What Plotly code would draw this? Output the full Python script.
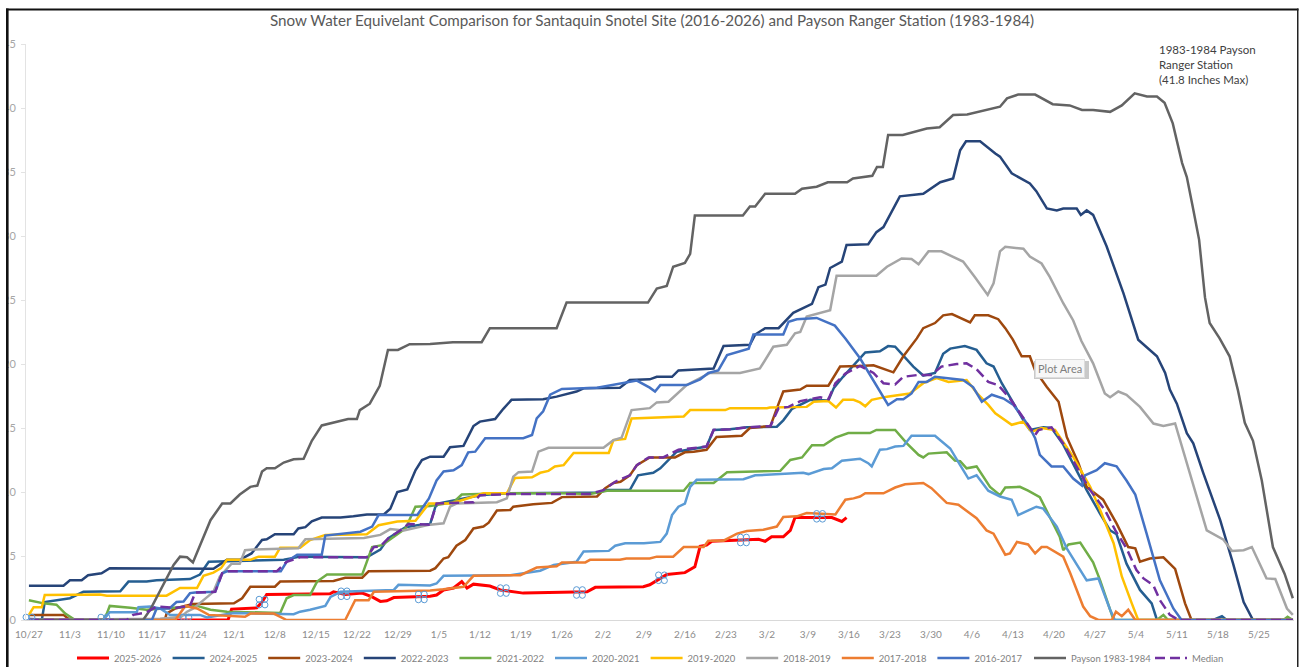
import plotly.graph_objects as go

TITLE = "Snow Water Equivelant Comparison for Santaquin Snotel Site (2016-2026) and Payson Ranger Station (1983-1984)"
tick_days = [0,7,14,21,28,35,42,49,56,63,70,77,84,91,98,105,112,119,126,133,140,147,154,161,168,175,182,189,196,203,210]
tick_labels = ["10/27","11/3","11/10","11/17","11/24","12/1","12/8","12/15","12/22","12/29","1/5","1/12","1/19","1/26","2/2","2/9","2/16","2/23","3/2","3/9","3/16","3/23","3/30","4/6","4/13","4/20","4/27","5/4","5/11","5/18","5/25"]
y_ticks = [0,5,10,15,20,25,30,35,40,45]

# (day since 10/27, inches SWE)
swe_2025_26 = [(0,0),(34,0),(34.6,.85),(36.3,.9),(37.2,.95),(38.9,.95),(39.8,1.4),(40.6,2),(51.4,2.05),(52,2.2),(54,2),(56.9,2.1),(58.6,1.8),(60,1.45),(61.1,1.5),(62.3,1.75),(68.5,1.85),(69.6,1.95),(70.8,2.35),(72.5,2.5),(73.9,3),(74.8,2.5),(75.9,2.8),(78.7,2.65),(80.5,2.35),(84.4,2.1),(95.3,2.2),(96.7,2.55),(104.9,2.6),(106,2.75),(107.8,3.25),(108.9,3.55),(112,3.7),(113.7,4.15),(114.6,5.75),(115.7,5.85),(116.6,6.15),(124.6,6.3),(125.7,6.15),(126.8,6.5),(128.8,6.5),(130,7),(130.8,8),(137.1,8),(138.8,7.7),(139.6,8)]
swe_2024_25 = [(0,0),(2.2,0),(2.7,1.4),(4.2,1.5),(7,1.7),(9.3,2.2),(15.6,2.25),(17,3),(20.1,3),(21.8,3.1),(27.5,3.2),(29.2,3.55),(30.7,4.55),(43.5,4.7),(46.3,4.95),(57.7,4.9),(60,5.5),(61.4,6.4),(63.4,7),(64.3,7.25),(66.3,7.4),(68.5,7.5),(69.4,8.85),(70,9.1),(77,9.75),(81.6,9.9),(94,9.95),(97,9.95),(98.7,10.15),(102.6,10.15),(104,11.3),(106.6,11.5),(107.8,11.85),(110.6,13.15),(115.7,13.55),(116.9,14.85),(119.7,14.9),(122.6,15.05),(127.7,15.1),(128.8,15.6),(130.3,16.5),(133.4,17.2),(136.5,17.15),(137.4,18.1),(139,19),(141.9,20.4),(142.8,20.9),(145.3,21),(146.7,21.4),(147.9,21.35),(149,20.8),(151,19.8),(152.7,19.1),(154.7,19.3),(156.1,20.8),(157.3,21.2),(159.8,21.4),(161.8,21.1),(163.5,20.05),(164.7,19.8),(166.1,18.5),(168.6,16.5),(169.8,15.6),(170.9,14.85),(173.2,15.05),(174.6,15),(176.6,13.7),(178.3,12.2),(180.6,10.15),(182.9,8.3),(184.6,7),(185.7,6.7),(187.4,4.4),(189.7,2.35),(191.7,1.3),(192.6,0),(202.2,0),(203.7,.3),(204.5,0),(215.8,0)]
swe_2023_24 = [(0,.4),(5.9,.4),(7,0),(23.2,0),(23.5,.5),(25,.9),(28,1.25),(35,1.3),(36.4,1.7),(37.8,2.6),(42,2.6),(42.9,3),(52,3.05),(54,3.3),(56.9,3.3),(58,3.8),(68.5,3.85),(69.4,4.05),(70.8,4.8),(71.6,4.9),(73,5.8),(74.5,6.25),(75.9,7.15),(77.6,7.3),(78.5,7.6),(79.9,8.55),(82.2,8.6),(82.7,8.85),(86.1,9.05),(89.3,9.15),(91,9.6),(97,9.65),(98.4,10.3),(99.8,10.7),(101,10.8),(102.6,11.3),(103.8,12.1),(106,12.7),(110.3,12.7),(112,13.1),(113.5,13.15),(115.7,13.3),(117.4,14.3),(121.7,14.4),(123.1,15),(126.6,15.15),(128,16.9),(128.8,17.85),(131.7,18),(132.8,18.3),(136.5,18.3),(138.5,19.8),(141.9,19.85),(144.2,19.9),(147.6,19.35),(149.3,20.6),(151.6,22),(152.7,22.8),(154.7,23.2),(156.1,23.8),(157.6,23.9),(160.7,23.25),(161.5,23.8),(163.8,23.8),(165.5,23.5),(166.7,22.8),(168,21.9),(169.5,20.6),(170.9,20.6),(171.8,19.5),(173.8,18.2),(175.8,17.05),(177.2,14.3),(179.2,12.25),(180.6,10.4),(183.4,9.4),(185.7,7.55),(187.7,5.7),(188.9,5.6),(189.7,4.55),(191.4,4.8),(193.7,4.9),(195.7,4),(197.4,1.3),(198.5,0),(215.8,0)]
swe_2022_23 = [(0,2.68),(5.9,2.68),(7,3.1),(9,3.1),(10.1,3.5),(12.4,3.65),(13.8,4.05),(31.5,4),(33.8,4.7),(36,4.7),(38,5.2),(39.8,6.25),(40.6,6.3),(42,6.7),(45.2,6.7),(46,7.15),(47.2,7.25),(48.3,7.7),(50,8),(53.2,8),(55.4,8.1),(57.7,8.25),(60.6,8.25),(61.7,8.7),(62.9,10),(64.6,10.2),(66,11.7),(67.1,12.5),(68.5,12.76),(70.8,12.76),(71.9,13.5),(74.2,13.6),(75.9,15.15),(77,15.5),(79.6,15.7),(81,16.5),(82.4,17.2),(87.8,17.25),(90.1,17.45),(93.5,17.85),(94.7,18.1),(100.9,18.15),(102.6,18.75),(106,18.8),(107.2,19),(109.8,19),(110.9,19.5),(116.9,19.65),(118.6,21.4),(123.1,21.5),(124,22.3),(125.7,22.8),(128,22.8),(130.5,24),(133.7,24.7),(134.8,26),(136,26.2),(136.8,27.5),(138.8,28),(139.6,29.3),(143.3,29.35),(144.7,30.3),(145.9,30.7),(148.7,33.1),(152.7,33.3),(155.6,34.2),(157.8,34.5),(159,36.7),(160,37.4),(162.4,37.4),(165,36.45),(165.8,36.2),(167.8,34.9),(170.9,34.1),(172,33.5),(173.8,32.15),(175.5,32),(176.6,32.15),(178.9,32.15),(179.6,31.65),(180.6,32),(181.7,31.65),(184,29.2),(186.9,25.5),(189.4,21.9),(192.6,20.6),(194,19.3),(194.8,18),(196,16.9),(197.7,14.6),(198.8,13.8),(200.5,11.5),(203.4,7.8),(205.6,4.4),(207.4,1.4),(209,0),(215.8,0)]
swe_2021_22 = [(0,1.55),(2.5,1.3),(4.7,1.2),(6.2,.5),(7.9,0),(12.7,0),(13.3,.5),(13.8,1.1),(17.3,.95),(20.1,.8),(28.7,1.1),(31,.8),(33.8,.65),(42.9,.55),(44,1.7),(45.2,1.95),(48,1.95),(49.2,3),(50.9,3.55),(56.9,3.55),(58.6,5.7),(60.3,5.85),(64.3,7.15),(66,8.85),(68.5,8.9),(69.9,9),(72.5,9.2),(73.9,9.8),(81.3,9.9),(91.3,9.9),(95.8,9.85),(98.7,10.1),(111.8,10.1),(112.9,10.7),(116.9,10.7),(119.2,11.55),(128.3,11.65),(130,12.5),(132,12.7),(133.7,13.65),(135.7,13.65),(137.7,14.25),(139.9,14.6),(143.6,14.6),(144.7,14.85),(147.9,14.85),(149.9,13.8),(151.9,12.9),(152.7,12.7),(153.6,13),(156.7,13.1),(158.1,12.45),(159,12.4),(160.1,11.85),(161.8,12),(164.1,10.4),(165.8,9.75),(166.7,10.35),(169.2,10.4),(170.6,10.1),(172.6,9.6),(174.3,8.05),(176,6.5),(176.6,5.45),(177.5,5.9),(179.5,6.05),(181.7,4.5),(182.9,3.1),(184.6,.8),(185.2,0),(192.6,0),(193.7,.4),(194.5,0),(214.2,0),(214.9,.25),(215.8,0)]
swe_2020_21 = [(0,.1),(3.6,0),(12.7,0),(13.8,.6),(18.4,.6),(18.7,1),(20.7,1.05),(22.4,.9),(24.1,.4),(29.2,.4),(30.4,.2),(35,.55),(45.2,.45),(46.3,.65),(48,.8),(50.6,1.1),(51.5,1.8),(53.2,2.2),(62.3,2.35),(63.1,2.75),(68.5,2.7),(69.6,2.85),(70.8,3.45),(77,3.5),(82.2,3.5),(87.3,3.85),(89.6,4.3),(93.5,4.55),(94.7,5.35),(99,5.4),(100.1,5.8),(101.8,6),(105,6),(107.8,6.1),(108.9,6.75),(109.8,8.2),(110.9,8.85),(112,9.1),(112.9,10.4),(114,10.95),(122,11),(124,11.3),(128.8,11.45),(132.2,11.5),(133.1,11.4),(135.7,11.8),(137.1,11.85),(138.8,12.45),(141.9,12.6),(143.3,12.25),(143.9,12),(145.3,13.3),(146.5,13.35),(147.9,13.55),(149.3,13.6),(150.7,14.4),(154.7,14.4),(157.3,13.4),(159,12.1),(160.4,11.05),(161.8,11.3),(163.8,10.1),(165.8,9.65),(167.8,9.4),(168.9,8.2),(170.6,8.55),(172,8.85),(173.2,8.7),(175.5,7.3),(177.2,5.6),(178.9,4.4),(180.6,3.1),(182.6,3.25),(184.6,.8),(185.4,0),(215.8,0)]
swe_2019_20 = [(0,.4),(.8,1),(2.2,1),(2.7,1.95),(12.1,2),(13.3,1.9),(23.5,1.9),(25.8,2.5),(28.7,2.5),(29.8,3.45),(31.5,3.7),(32.8,4.05),(33.8,4.7),(37.8,4.7),(39.2,4.95),(42,4.95),(42.9,5.65),(46.3,5.65),(48,6.25),(50.6,6.65),(57.7,6.7),(59.7,7.4),(62.9,7.7),(66,7.75),(68.3,9.1),(72,9.1),(74.2,9.4),(77.6,9.9),(81.6,9.9),(83,11.1),(85.9,11.15),(87.3,11.5),(88.7,11.65),(89.8,12),(91.3,12.1),(93,13.05),(99,13.05),(99.8,14.05),(101.8,14.15),(102.9,15.75),(111.8,15.9),(112.9,16.4),(118.9,16.4),(119.7,16.55),(126,16.55),(126.5,16.6),(132.8,16.65),(134,17.05),(136.5,17.1),(137.8,16.6),(139,17.2),(140.8,17.2),(141.9,17),(142.8,16.7),(143.9,17.2),(146.5,17.45),(150.4,17.7),(152.7,18.5),(155,18.9),(157,18.6),(160.1,18.75),(162.1,17.6),(163.8,16.8),(165,16.15),(167.8,15.25),(169.8,15.5),(171.2,14.7),(172.9,15),(175.2,14.85),(178.3,12.75),(181.2,10.4),(182.9,8.6),(185.2,6),(186.6,3.4),(188.3,1.3),(189.4,0),(215.8,0)]
swe_2018_19 = [(0,0),(22.4,.1),(26,.25),(27,.65),(28.1,.9),(29.2,1.3),(31.5,2.2),(32.6,3.4),(34.6,4.4),(36,4.4),(36.9,5.45),(38.3,5.5),(46,5.6),(47.2,6.3),(57.2,6.4),(60,6.65),(61.7,7.1),(64,7),(68.5,7.45),(70.8,7.55),(71.9,8.85),(73,9.1),(79.9,9.2),(81.6,9.5),(82.7,11.2),(83.6,11.55),(85.9,11.6),(87,13.15),(88.7,13.45),(98.1,13.45),(99.8,14.05),(101.2,14.25),(102.9,16.4),(106,16.55),(107.2,17),(109.2,17.05),(112.3,18.35),(116.3,19.3),(121.4,19.3),(124.8,19.65),(127.1,21.35),(129.4,21.5),(130.8,22.4),(131.7,22.5),(132.8,23.7),(136.8,24.2),(137.9,26.9),(144.7,26.9),(146.5,27.6),(149,28.25),(150.7,28.2),(151.9,27.8),(153.6,28.8),(155.8,28.8),(158.4,28.25),(159.5,28),(161.5,26.8),(163.7,25.4),(164.7,26.3),(165.8,28.8),(166.7,29.15),(169.8,29),(170.9,28.4),(172.9,27.85),(174.3,26.8),(176.6,24.75),(178.3,23.4),(179.7,21.8),(181.7,20.05),(183.7,17.7),(184.6,17.4),(186,17.85),(187.4,17.6),(189.7,16.65),(192,15.35),(193.7,15.15),(195.7,15.35),(197.4,12.75),(199.4,9.65),(201.1,7),(203.9,6.3),(205.4,5.4),(207.4,5.45),(208.8,5.7),(211.3,3.25),(212.8,3.2),(214.8,.9),(215.8,.4)]
swe_2017_18 = [(0,0),(25,0),(26.7,1.1),(28.7,.9),(30.7,.4),(36.9,.25),(37.8,.5),(41.8,.5),(44,0),(54,0),(55.7,1.55),(58,1.55),(58.9,2.2),(68.5,2.3),(70.8,2.4),(74.2,2.6),(75.9,3.45),(83.9,3.5),(86.7,4.1),(90.1,4.2),(91,4.5),(95,4.5),(95.8,4.7),(100.9,4.7),(102,4.8),(106,4.8),(107.2,4.95),(110,4.95),(111.8,5.7),(115.2,5.7),(116,6.2),(118.6,6.2),(120.9,6.75),(122.6,6.95),(125.4,7.05),(127.7,7.3),(128.8,8.05),(131.1,8.1),(132.8,8.35),(137.7,8.25),(139.4,9.4),(140.8,9.5),(141.9,9.65),(142.8,9.9),(145.9,9.9),(147.9,10.35),(149.6,10.6),(152.7,10.7),(154.1,10.3),(156.7,9.15),(158.7,9),(161.8,7.95),(163.5,7),(164.7,6.75),(166.7,5.1),(167.5,5.2),(168.7,6.1),(170.6,5.9),(171.8,5.2),(172.9,5.7),(173.8,5.7),(176.6,4.95),(177.8,3.65),(180,1.05),(181.2,.3),(182.6,0),(184.9,0),(185.6,.65),(186.6,.3),(187.7,.8),(188.9,0),(215.8,0)]
swe_2016_17 = [(0,0),(21,0),(21.8,.9),(24,.9),(25.2,1.4),(26.4,1.45),(27.5,2.1),(28.4,2.15),(31.8,2.2),(33,3.65),(33.8,3.8),(43,3.8),(44,4.55),(45.8,5.1),(50,5.1),(50.6,6.6),(56.6,6.9),(58.6,7.3),(59.7,8.2),(66.3,8.2),(68.3,9.5),(69.6,10.9),(70.8,11.6),(72.5,11.7),(73.9,12.1),(75,13.1),(76.2,13.15),(77.9,14.2),(84.4,14.2),(85.9,14.45),(86.7,15.75),(87.8,16.3),(89,17.6),(91,18.05),(97,18.15),(101.5,18.5),(103.8,18.7),(106,18.15),(106.9,17.85),(107.8,18.35),(112.3,18.35),(114.6,18.8),(116,19.3),(117.7,19.5),(119.2,20.7),(122.9,21.2),(123.7,22.3),(128.8,22.3),(129.7,23.3),(131.1,23.5),(134.5,23.6),(137.6,23),(139.4,22),(141.9,20.45),(146.7,16.8),(148.2,17.25),(149.3,17.25),(150.7,17.7),(151.9,18.6),(153.3,18.6),(154.7,19),(159.5,18.75),(161.2,18.2),(162.7,17.05),(164.4,17.6),(166.4,17.3),(168.1,16.8),(169.8,15.75),(170.9,15),(171.8,14.2),(172.6,12.9),(174.6,12),(176.6,12),(178.3,11.05),(179.8,10.5),(180.3,11.3),(182.3,11.7),(183.7,12.25),(185.7,12),(187.4,10.9),(188.9,9.8),(190.8,6.8),(193.1,3.1),(195.4,.9),(196.8,0),(215.8,0)]
swe_payson = [(0,0),(19.5,0),(20.7,.8),(22.4,2.3),(24.7,4.3),(25.8,4.95),(27,4.9),(28,4.5),(29.8,6.5),(31,7.8),(33,9.1),(34.4,9.1),(36,9.8),(37.8,10.4),(39,10.5),(39.8,11.6),(40.6,11.85),(42,11.85),(43.5,12.3),(45.2,12.55),(46.9,12.6),(48.3,14),(50,15.2),(52,15.4),(54.5,15.7),(56,15.7),(56.5,16.4),(58.2,16.9),(59.9,18.3),(61.3,21.1),(63,21.1),(65,21.55),(68.5,21.56),(72.4,21.7),(77.3,21.7),(78.7,22.8),(90.1,22.8),(91.8,24.8),(105.7,24.8),(107.2,25.9),(108.9,26.1),(110,27.6),(112,27.9),(112.9,28.6),(113.7,31.6),(121.9,31.6),(123.1,32.3),(124,32.3),(125.7,33.3),(130.8,33.3),(132,33.7),(134.5,33.85),(136.4,34.2),(139.7,34.2),(140.7,34.5),(144,34.7),(144.8,35.4),(145.8,35.4),(146.7,37.9),(149.2,37.9),(151.8,38.2),(153.3,38.4),(155.5,38.5),(157.8,39.45),(160.2,39.5),(163.7,39.85),(165.8,40.1),(167,40.75),(168.9,41.05),(171.8,41.05),(174.8,40.3),(177.7,40.2),(179.8,39.85),(181.7,39.85),(184.6,39.7),(186.6,40.2),(188.8,41.15),(190.9,40.9),(192.6,40.9),(193.9,40.4),(195.3,38.8),(196.9,35.7),(197.7,34.6),(198.7,32.3),(199.8,29.7),(200.8,25.2),(201.6,23.2),(203.3,22),(205,20.6),(206.4,18),(207.6,15.4),(209,14),(210.5,10.9),(212.4,5.7),(214.4,3.6),(215.8,1.7)]
swe_median = [(0,0),(16.7,0),(17.8,.4),(20.1,.6),(21.8,1.05),(25.2,.95),(27.5,1.1),(28.4,2.15),(31.8,2.2),(33,3.65),(33.8,3.8),(42.3,3.8),(44,4.55),(46.3,4.9),(57.7,4.9),(58.9,5.7),(60,5.75),(61.4,6.4),(63.4,7),(64.8,7.5),(68.5,7.45),(69.6,9.1),(75.9,9.2),(77,9.75),(82.7,9.85),(95.8,9.85),(98.1,10.15),(100.1,10.8),(102.6,11.3),(103.8,12.1),(105.8,12.7),(108.3,12.7),(110.9,13.3),(115.7,13.55),(116.9,14.85),(119.7,14.9),(122.6,15.05),(126.6,15.15),(128,16.55),(129.7,16.65),(131.7,17.1),(135.1,17.4),(136.5,17.25),(137.7,18.5),(139.4,19.25),(141.9,19.85),(144.2,19.3),(145.9,18.5),(147.9,18.4),(149.3,19),(151.9,19.15),(154.1,19.15),(155.8,19.8),(158.4,20),(160.1,20.05),(161.8,19.6),(163.8,18.6),(165.5,18.35),(167.5,17.3),(169.8,15.75),(171.8,14.45),(172.4,14.85),(174.6,15.05),(176.6,13.8),(178.9,12),(181.2,10.15),(183.7,8.6),(185.5,7),(187.4,5.6),(189.1,3.9),(190.3,3.25),(192,2.7),(193.1,1.55),(194.8,.4),(196.3,0),(215.8,0)]

selected_days = [0,12.8,26.8,39.8,53.8,67,81,94,108,122,135]
selected_swe = [0,0,0,1.4,2.05,1.8,2.3,2.15,3.3,6.25,8.1]

series = [
    ("2025-2026", swe_2025_26, "#FF0000", 3, "solid", "legend"),
    ("2024-2025", swe_2024_25, "#255E91", 2.5, "solid", "legend"),
    ("2023-2024", swe_2023_24, "#9E480E", 2.5, "solid", "legend"),
    ("2022-2023", swe_2022_23, "#264478", 2.5, "solid", "legend"),
    ("2021-2022", swe_2021_22, "#70AD47", 2.5, "solid", "legend"),
    ("2020-2021", swe_2020_21, "#5B9BD5", 2.5, "solid", "legend"),
    ("2019-2020", swe_2019_20, "#FFC000", 2.5, "solid", "legend"),
    ("2018-2019", swe_2018_19, "#A5A5A5", 2.5, "solid", "legend"),
    ("2017-2018", swe_2017_18, "#ED7D31", 2.5, "solid", "legend"),
    ("2016-2017", swe_2016_17, "#4472C4", 2.5, "solid", "legend"),
    ("Payson 1983-1984", swe_payson, "#636363", 2.5, "solid", "legend3"),
    ("Median", swe_median, "#7030A0", 2.5, "10px,5px", "legend2"),
]

FONT = "Lato, 'Open Sans', sans-serif"
W, H = 1299, 667
L, R, T, B = 26, 5, 44, 47
PW, PH = W - L - R, H - T - B
px = lambda x: (x - L) / PW
py = lambda y: (H - B - y) / PH

fig = go.Figure()
for name, pts, color, width, dash, leg in series:
    days, swe = zip(*pts)
    fig.add_trace(go.Scatter(x=list(days), y=list(swe), mode="lines", name=name, legend=leg,
                             line=dict(color=color, width=width, dash=dash)))
for dx, dy in [(-.5, -.22), (.5, -.22), (-.5, .22), (.5, .22)]:
    fig.add_trace(go.Scatter(x=[d + dx for d in selected_days], y=[v + dy for v in selected_swe],
                             mode="markers", showlegend=False, cliponaxis=False, hoverinfo="skip",
                             marker=dict(symbol="circle-open", size=6, color="#5B9BD5", line=dict(width=1, color="#5B9BD5"))))

shapes = [
    dict(type="rect", xref="paper", yref="paper", x0=px(0), x1=px(6), y0=py(667), y1=py(0), fillcolor="white", line_width=0, layer="above"),
    dict(type="rect", xref="paper", yref="paper", x0=px(6), x1=px(8.6), y0=py(667), y1=py(8.5), fillcolor="#111111", line_width=0, layer="above"),
    dict(type="rect", xref="paper", yref="paper", x0=px(6), x1=px(1298.5), y0=py(10.5), y1=py(8.5), fillcolor="#111111", line_width=0, layer="above"),
    dict(type="rect", xref="paper", yref="paper", x0=px(1297), x1=px(1298.5), y0=py(667), y1=py(8.5), fillcolor="#222222", line_width=0, layer="above"),
    dict(type="rect", xref="paper", yref="paper", x0=px(1034), x1=px(1089), y0=py(379), y1=py(361), fillcolor="#c9c9c9", line_width=0, layer="above"),
]

legend_font = dict(family=FONT, size=9.5, color="#7F7F7F")
fig.update_layout(
    width=W, height=H, autosize=False,
    margin=dict(l=L, r=R, t=T, b=B, pad=0, autoexpand=False),
    paper_bgcolor="white", plot_bgcolor="white",
    font=dict(family=FONT, color="#7F7F7F"),
    title=dict(text=TITLE, x=652 / W, xanchor="center", y=1 - 21 / H, yanchor="middle",
               font=dict(family=FONT, size=15.2, color="#595959")),
    xaxis=dict(range=[-0.5, 216], tickmode="array", tickvals=tick_days, ticktext=tick_labels,
               tickangle=0, showgrid=False, zeroline=False, showline=True, linecolor="#D9D9D9", linewidth=1,
               ticks="", ticklabelstandoff=5, tickfont=dict(family=FONT, size=10, color="#8C8C8C")),
    yaxis=dict(range=[0, 45], tickmode="array", tickvals=y_ticks, showgrid=False, zeroline=False,
               showline=True, linecolor="#E3E3E3", linewidth=1, ticks="outside", ticklen=4, tickcolor="#E3E3E3",
               ticklabelstandoff=3, tickfont=dict(family=FONT, size=11, color="#A6A6A6")),
    legend=dict(orientation="h", x=px(72), xanchor="left", y=py(658), yanchor="middle",
                itemwidth=32, entrywidth=48.6, entrywidthmode="pixels", font=legend_font,
                bgcolor="rgba(0,0,0,0)", traceorder="normal"),
    legend3=dict(orientation="h", x=px(1029), xanchor="left", y=py(658), yanchor="middle",
                 itemwidth=32, font=legend_font, bgcolor="rgba(0,0,0,0)"),
    legend2=dict(orientation="h", x=px(1150), xanchor="left", y=py(658), yanchor="middle",
                 itemwidth=32, font=legend_font, bgcolor="rgba(0,0,0,0)"),
    shapes=shapes,
    annotations=[
        dict(text="1983-1984 Payson<br>Ranger Station<br>(41.8 Inches Max)", xref="paper", yref="paper",
             x=px(1157), y=py(41), xanchor="left", yanchor="top", align="left", showarrow=False,
             font=dict(family=FONT, size=11.5, color="#404040")),
        dict(text="Plot Area", xref="paper", yref="paper", x=px(1059.5), y=py(368.5), xanchor="center", yanchor="middle",
             showarrow=False, bgcolor="#F7F7F7", bordercolor="#DDDDDD", borderwidth=1, borderpad=2,
             font=dict(family=FONT, size=11, color="#7F7F7F")),
    ],
)

fig.write_html("out.html", config=dict(displayModeBar=False), post_script="document.body.style.margin='0';")
